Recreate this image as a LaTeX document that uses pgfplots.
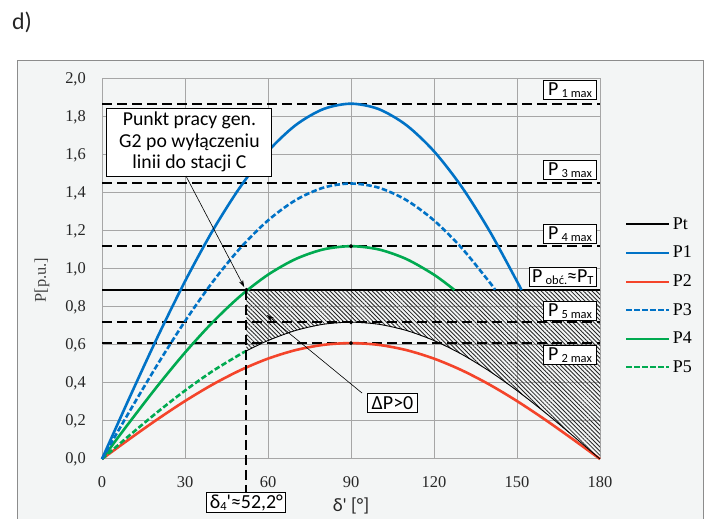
\documentclass[border=0pt]{standalone}
\usepackage{fontspec}
\setmainfont{Liberation Serif}
\newfontfamily\sffont{Carlito}
\usepackage{pgfplots}
\pgfplotsset{compat=1.18}
\usetikzlibrary{patterns.meta,arrows.meta}

\definecolor{bgc}{RGB}{243,245,245}
\definecolor{cblue}{RGB}{0,114,198}
\definecolor{cred}{RGB}{244,68,42}
\definecolor{cgreen}{RGB}{0,170,80}

% small lowered text used for the subscripts in the boxes
\newcommand{\sub}[1]{\raisebox{-2.5bp}{\fontsize{12.5}{12.5}\selectfont #1}}
\newcommand{\pmax}[1]{P\,\sub{#1 max}}

\tikzset{
  maxline/.style={black, line width=2bp, dash pattern=on 10bp off 5bp},
  curve/.style={line width=2.6bp, smooth},
  shortdash/.style={dash pattern=on 5.5bp off 2.5bp},
  lbl/.style={draw=black, line width=1bp, fill=white, inner xsep=4.5bp, inner ysep=0pt,
              minimum height=19.5bp, font=\sffont\fontsize{20}{20}\selectfont},
}

\begin{document}
\begin{tikzpicture}
\path[use as bounding box] (0,0) rectangle (714bp,519bp);
\draw[fill=bgc, draw=black!45, line width=1bp] (17bp,-5bp) rectangle (703bp,458bp);
\node[font=\sffont\fontsize{24}{24}\selectfont, text=black!85] at (22bp,497bp) {d)};

\begin{axis}[
  at={(102bp,60bp)}, anchor=south west,
  scale only axis, width=498bp, height=380bp,
  xmin=0, xmax=180, ymin=0, ymax=2,
  xtick={0,30,60,90,120,150,180},
  ytick={0,0.2,0.4,0.6,0.8,1.0,1.2,1.4,1.6,1.8,2.0},
  grid=major,
  major grid style={draw=black!35, line width=1bp},
  axis line style={draw=black!35, line width=1bp},
  tick style={draw=none},
  clip=false,
  /pgf/number format/assume math mode=true,
  ticklabel style={font=\fontsize{16.5}{16.5}\selectfont, text=black!85, inner sep=0pt},
  xticklabel style={anchor=base, yshift=-28.5bp},
  yticklabel style={anchor=east, xshift=-16bp,
    /pgf/number format/use comma, /pgf/number format/fixed,
    /pgf/number format/fixed zerofill, /pgf/number format/precision=1},
  ylabel={P[p.u.]},
  ylabel style={at={(axis description cs:-0.1205,0.471)}, anchor=center,
                font=\fontsize{16.5}{16.5}\selectfont, text=black!75},
  xlabel={\sffont δ' [°]},
  xlabel style={at={(axis description cs:0.5,-0.124)}, anchor=center,
                font=\fontsize{19}{19}\selectfont, text=black!85},
  legend style={at={(1.0502,0.643)}, anchor=north west, draw=none, fill=none,
                inner sep=0pt, row sep=9.6bp,
                font=\fontsize{18}{18}\selectfont,
                nodes={inner sep=2.5bp, text height=12bp, text depth=2bp}},
  legend cell align=left,
  legend image code/.code={\draw[#1] (0bp,0bp) -- (43bp,0bp);},
]

% legend
\addlegendimage{black, line width=2.1bp}\addlegendentry{Pt}
\addlegendimage{cblue, line width=2.1bp}\addlegendentry{P1}
\addlegendimage{cred, line width=2.1bp}\addlegendentry{P2}
\addlegendimage{cblue, line width=2.1bp, shortdash}\addlegendentry{P3}
\addlegendimage{cgreen, line width=2.1bp}\addlegendentry{P4}
\addlegendimage{cgreen, line width=2.1bp, shortdash}\addlegendentry{P5}

% hatched area between Pt and P5 (delta >= 52.2)
\addplot[forget plot, draw=none, pattern={Lines[angle=-45,distance=3pt,line width=0.85pt]}, pattern color=black!85]
coordinates {
  (52.2,0.89) (180,0.89) (180,0) (170,0.1250) (160,0.2463) (150,0.36)
  (140,0.4628) (130,0.5515) (120,0.6235) (110,0.6766) (100,0.7091)
  (90,0.72) (80,0.7091) (70,0.6766) (60,0.6235) (52.2,0.5689)
} -- cycle;

% max lines
\addplot[forget plot, maxline] coordinates {(0,1.87) (180,1.87)};
\addplot[forget plot, maxline] coordinates {(0,1.45) (180,1.45)};
\addplot[forget plot, maxline] coordinates {(0,1.12) (180,1.12)};
\addplot[forget plot, maxline] coordinates {(0,0.72) (180,0.72)};
\addplot[forget plot, maxline] coordinates {(0,0.61) (180,0.61)};

% Pt
\addplot[forget plot, black, line width=2.4bp] coordinates {(0,0.89) (180,0.89)};

% P2
\addplot[forget plot, cred, curve] coordinates {
  (0,0) (10,0.1059) (20,0.2086) (30,0.305) (40,0.3921) (50,0.4673) (60,0.5283)
  (70,0.5732) (80,0.6007) (90,0.61) (100,0.6007) (110,0.5732) (120,0.5283)
  (130,0.4673) (140,0.3921) (150,0.305) (160,0.2086) (170,0.1059) (180,0)
};

% P5
\addplot[forget plot, cgreen, curve, shortdash] coordinates {
  (0,0) (10,0.1250) (20,0.2463) (30,0.36) (40,0.4628) (50,0.5515) (52.2,0.5689)
};
\addplot[forget plot, black, line width=0.9bp, smooth] coordinates {
  (52.2,0.5689) (60,0.6235) (70,0.6766) (80,0.7091) (90,0.72) (100,0.7091)
  (110,0.6766) (120,0.6235) (130,0.5515) (140,0.4628) (150,0.36)
  (160,0.2463) (170,0.1250) (180,0)
};

% P4
\addplot[forget plot, cgreen, curve] coordinates {
  (0,0) (10,0.1945) (20,0.3831) (30,0.56) (40,0.7199) (50,0.8580) (60,0.9699)
  (70,1.0525) (80,1.1030) (90,1.12) (100,1.1030) (110,1.0525) (120,0.9699)
  (127.4,0.8897)
};

% P3
\addplot[forget plot, cblue, curve, shortdash] coordinates {
  (0,0) (10,0.2518) (20,0.4959) (30,0.725) (40,0.9320) (50,1.1107) (60,1.2557)
  (70,1.3626) (80,1.4280) (90,1.45) (100,1.4280) (110,1.3626) (120,1.2557)
  (130,1.1107) (140,0.9320) (142.1,0.8907)
};

% P1
\addplot[forget plot, cblue, curve] coordinates {
  (0,0) (10,0.3247) (20,0.6396) (30,0.935) (40,1.2020) (50,1.4325) (60,1.6195)
  (70,1.7572) (80,1.8416) (90,1.87) (100,1.8416) (110,1.7572) (120,1.6195)
  (130,1.4325) (140,1.2020) (150,0.935) (151.6,0.889)
};

% peak points and operating point
\addplot[forget plot, only marks, mark=*, mark size=1.8bp, black]
coordinates {(90,1.12) (90,0.72) (90,0.61) (52.2,0.89)};

% delta_4' marker
\addplot[forget plot, maxline] coordinates {(52.2,0.89) (52.2,-0.179)};

% annotations
\node[lbl, anchor=east] at (axis cs:178.9,1.942) {\pmax{1}};
\node[lbl, anchor=east] at (axis cs:178.9,1.520) {\pmax{3}};
\node[lbl, anchor=east] at (axis cs:178.9,1.184) {\pmax{4}};
\node[lbl, anchor=east, inner xsep=3bp] at (axis cs:178.9,0.958) {P\,\sub{obć.}≈P\sub{T}};
\node[lbl, anchor=east] at (axis cs:178.9,0.779) {\pmax{5}};
\node[lbl, anchor=east] at (axis cs:178.9,0.547) {\pmax{2}};

\node[lbl, align=center, minimum width=165bp, minimum height=68bp,
      font=\sffont\fontsize{19.8}{21.5}\selectfont]
  at (axis cs:31.6,1.668) {Punkt pracy gen.\\G2 po wyłączeniu\\linii do stacji C};
\draw[-{Stealth[length=7bp,width=4.5bp]}, line width=0.6bp]
  (axis cs:30.36,1.489) -- (axis cs:51.4,0.905);

\node[lbl] at (axis cs:105.0,0.295) {ΔP>0};
\draw[-{Stealth[length=7bp,width=4.5bp]}, line width=0.6bp]
  (axis cs:94.0,0.347) -- (axis cs:59.6,0.758);

\node[lbl, inner xsep=3bp] at (axis cs:52.2,-0.229) {δ\sub{4}'≈52,2°};

\end{axis}
\end{tikzpicture}
\end{document}
